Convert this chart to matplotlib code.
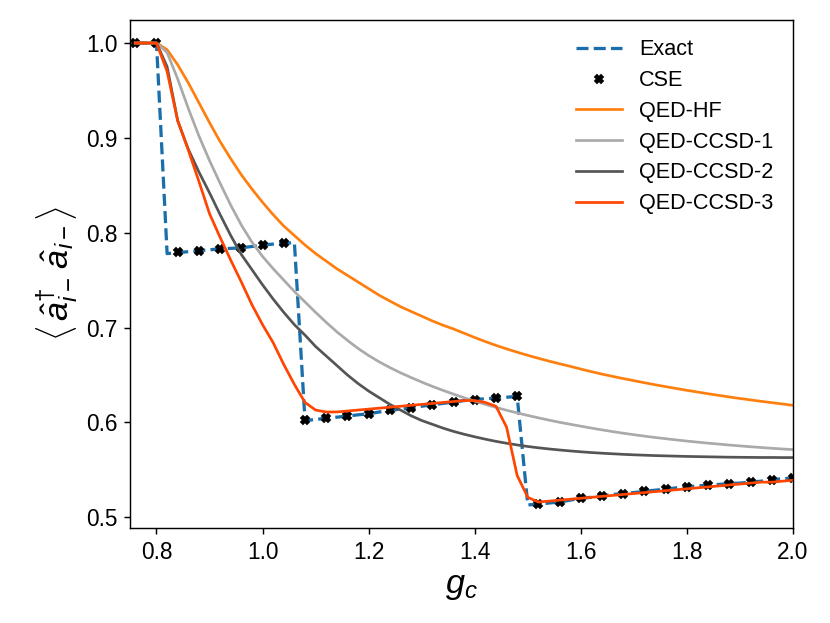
import matplotlib
matplotlib.use('Agg')
import matplotlib.pyplot as plt
import numpy as np

plt.rcParams['font.family'] = ['Liberation Sans', 'DejaVu Sans']
plt.rcParams['mathtext.fontset'] = 'custom'
plt.rcParams['mathtext.rm'] = 'Liberation Sans'
plt.rcParams['mathtext.it'] = 'Liberation Sans:italic'
plt.rcParams['mathtext.bf'] = 'Liberation Sans:bold'

# coupling grid (step 0.02 for the lines, 0.04 for the CSE points)
g_fine = np.linspace(0.76, 2.0, 63)
g_cse = np.linspace(0.76, 2.0, 32)

exact_occ = [
    1.000, 1.000, 1.000, 0.778, 0.779, 0.780, 0.781, 0.782, 0.783, 0.7835,
    0.784, 0.7855, 0.787, 0.788, 0.7888, 0.7895, 0.602, 0.603, 0.6045, 0.6055,
    0.6067, 0.608, 0.609, 0.611, 0.6126, 0.614, 0.615, 0.617, 0.6186, 0.620,
    0.6214, 0.623, 0.624, 0.625, 0.6256, 0.6265, 0.6274, 0.513, 0.5137, 0.515,
    0.516, 0.518, 0.520, 0.521, 0.5224, 0.524, 0.525, 0.526, 0.5274, 0.5285,
    0.5295, 0.531, 0.532, 0.533, 0.5337, 0.5346, 0.5355, 0.536, 0.537, 0.538,
    0.5397, 0.5405, 0.5414]

cse_occ = [
    1.000, 1.000, 0.7793, 0.781, 0.7828, 0.7842, 0.787, 0.7888, 0.602, 0.6045,
    0.6067, 0.609, 0.6126, 0.615, 0.6186, 0.6214, 0.624, 0.6256, 0.6274, 0.5137,
    0.516, 0.520, 0.5224, 0.525, 0.5274, 0.5295, 0.532, 0.5337, 0.5355, 0.537,
    0.5397, 0.5414]

hf_occ = [
    1.000, 1.000, 1.000, 0.993, 0.977, 0.958, 0.937, 0.916, 0.896, 0.878,
    0.861, 0.846, 0.832, 0.819, 0.807, 0.797, 0.787, 0.778, 0.770, 0.762,
    0.755, 0.748, 0.741, 0.734, 0.728, 0.722, 0.717, 0.712, 0.707, 0.7025,
    0.6985, 0.694, 0.6895, 0.6852, 0.6812, 0.6775, 0.674, 0.6707, 0.6676, 0.6646,
    0.6618, 0.6591, 0.6562, 0.6535, 0.6509, 0.6485, 0.6462, 0.644, 0.6418, 0.6397,
    0.6377, 0.6357, 0.6338, 0.632, 0.6302, 0.6285, 0.6268, 0.6252, 0.6237, 0.6222,
    0.6208, 0.6194, 0.618]

ccsd1_occ = [
    1.000, 1.000, 1.000, 0.990, 0.962, 0.931, 0.902, 0.876, 0.852, 0.829,
    0.808, 0.790, 0.775, 0.762, 0.750, 0.738, 0.727, 0.716, 0.7055, 0.6955,
    0.6865, 0.678, 0.6705, 0.6638, 0.6578, 0.6523, 0.6473, 0.6425, 0.638, 0.6338,
    0.6298, 0.626, 0.6224, 0.619, 0.6158, 0.6128, 0.610, 0.6073, 0.6048, 0.6024,
    0.6001, 0.598, 0.596, 0.594, 0.5921, 0.5903, 0.5886, 0.587, 0.5855, 0.5841,
    0.5828, 0.5815, 0.5803, 0.5792, 0.5781, 0.5771, 0.5761, 0.5752, 0.5743, 0.5735,
    0.5727, 0.572, 0.5713]

ccsd2_occ = [
    1.000, 1.000, 1.000, 0.975, 0.918, 0.888, 0.864, 0.842, 0.819, 0.797,
    0.777, 0.761, 0.745, 0.730, 0.716, 0.703, 0.692, 0.680, 0.670, 0.660,
    0.650, 0.641, 0.633, 0.626, 0.619, 0.613, 0.607, 0.602, 0.598, 0.594,
    0.5905, 0.5875, 0.5848, 0.5823, 0.580, 0.578, 0.5762, 0.5746, 0.5732, 0.572,
    0.5709, 0.5699, 0.569, 0.5682, 0.5675, 0.5669, 0.5663, 0.5658, 0.5654, 0.565,
    0.5647, 0.5644, 0.5641, 0.5639, 0.5637, 0.5635, 0.5633, 0.5632, 0.5631, 0.563,
    0.563, 0.5629, 0.5629]

ccsd3_occ = [
    1.000, 1.000, 1.000, 0.970, 0.918, 0.887, 0.854, 0.820, 0.795, 0.771,
    0.748, 0.724, 0.703, 0.684, 0.661, 0.640, 0.621, 0.613, 0.611, 0.611,
    0.612, 0.613, 0.614, 0.615, 0.616, 0.617, 0.618, 0.619, 0.620, 0.621,
    0.622, 0.623, 0.623, 0.621, 0.617, 0.595, 0.544, 0.521, 0.516, 0.517,
    0.518, 0.519, 0.520, 0.521, 0.522, 0.523, 0.524, 0.525, 0.526, 0.527,
    0.528, 0.529, 0.530, 0.531, 0.532, 0.533, 0.534, 0.535, 0.536, 0.537,
    0.537, 0.538, 0.539]

fig = plt.figure(figsize=(830 / 130, 623 / 130), dpi=130)
ax = fig.add_subplot(111)
fig.subplots_adjust(left=0.1566, right=0.9554, top=0.968, bottom=0.1525)

ax.plot(g_fine, exact_occ, '--', color='#1a6faa', lw=1.8, label='Exact')
ax.plot(g_cse, cse_occ, 'X', color='black', ms=4.5, ls='none', label='CSE')
ax.plot(g_fine, hf_occ, '-', color='#ff7f0e', lw=1.5, label='QED-HF')
ax.plot(g_fine, ccsd1_occ, '-', color='#aaaaaa', lw=1.5, label='QED-CCSD-1')
ax.plot(g_fine, ccsd2_occ, '-', color='#555555', lw=1.5, label='QED-CCSD-2')
ax.plot(g_fine, ccsd3_occ, '-', color='#ff4500', lw=1.5, label='QED-CCSD-3')

ax.set_xlim(0.75, 2.0)
ax.set_xticks([0.8, 1.0, 1.2, 1.4, 1.6, 1.8, 2.0])
ax.set_yticks([0.5, 0.6, 0.7, 0.8, 0.9, 1.0])
ax.tick_params(labelsize=12.5)
ax.set_xlabel(r'$g_c$', fontsize=19)
ax.set_ylabel(r'$\left\langle\, \hat{a}^{\dagger}_{i-}\, \hat{a}_{i-} \right\rangle$', fontsize=19)
ax.legend(loc='upper right', frameon=False, fontsize=12, handlelength=2.1,
          labelspacing=0.45, numpoints=1)

fig.savefig('out.png', dpi=130)
